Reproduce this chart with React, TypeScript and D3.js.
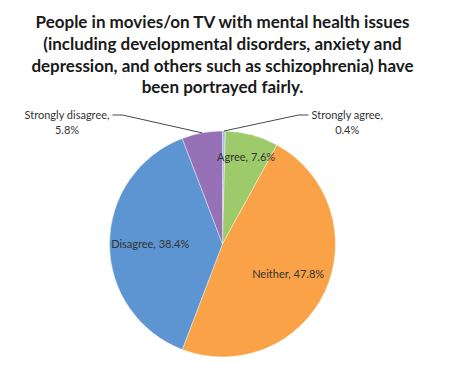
import { useEffect, useRef } from "react";
import * as d3 from "d3";

const TITLE_LINES = [
  "People in movies/on TV with mental health issues",
  "(including developmental disorders, anxiety and",
  "depression, and others such as schizophrenia) have",
  "been portrayed fairly.",
];

const CATEGORIES = ["Strongly agree", "Agree", "Neither", "Disagree", "Strongly disagree"];
const VALUES = [0.4, 7.6, 47.8, 38.4, 5.8];
const COLORS = ["#a7bfe3", "#9dca6b", "#f9a247", "#5c95d1", "#9771b6"];

type Slice = { label: string; value: number; color: string };

const SLICES: Slice[] = CATEGORIES.map((label, i) => ({
  label,
  value: VALUES[i],
  color: COLORS[i],
}));

export default function App() {
  const ref = useRef<SVGSVGElement | null>(null);

  useEffect(() => {
    if (!ref.current) return;
    const svg = d3.select(ref.current);
    svg.selectAll("*").remove();

    const width = 475;
    const height = 365;
    const cx = 222.5;
    const cy = 244;
    const r = 113;
    const font = "Lato, 'Open Sans', sans-serif";

    svg.attr("viewBox", `0 0 ${width} ${height}`);

    // title
    svg
      .append("g")
      .selectAll("text")
      .data(TITLE_LINES)
      .enter()
      .append("text")
      .attr("x", cx)
      .attr("y", (_, i) => 28 + i * 21.8)
      .attr("text-anchor", "middle")
      .attr("font-family", font)
      .attr("font-weight", 700)
      .attr("font-size", 17)
      .attr("fill", "#1a1a1a")
      .text((d) => d);

    const pie = d3
      .pie<Slice>()
      .sort(null)
      .value((d) => d.value);
    const arcs = pie(SLICES);

    const arc = d3.arc<d3.PieArcDatum<Slice>>().innerRadius(0).outerRadius(r);
    const edge = d3.arc<d3.PieArcDatum<Slice>>().innerRadius(r).outerRadius(r);
    const inner = d3.arc<d3.PieArcDatum<Slice>>().innerRadius(r * 0.64).outerRadius(r * 0.64);
    const innerSmall = d3.arc<d3.PieArcDatum<Slice>>().innerRadius(r * 0.8).outerRadius(r * 0.8);

    const g = svg.append("g").attr("transform", `translate(${cx},${cy})`);

    g.selectAll("path")
      .data(arcs)
      .enter()
      .append("path")
      .attr("d", arc)
      .attr("fill", (d) => d.data.color)
      .attr("stroke", "#ffffff")
      .attr("stroke-width", 0.4);

    const insideArcs = arcs.filter((d) => d.data.value >= 6);
    const outsideArcs = arcs.filter((d) => d.data.value < 6);

    g.selectAll("text.inside")
      .data(insideArcs)
      .enter()
      .append("text")
      .attr("class", "inside")
      .attr("transform", (d) => {
        const [x, y] = d.data.value < 10 ? innerSmall.centroid(d) : inner.centroid(d);
        return `translate(${x},${y})`;
      })
      .attr("text-anchor", "middle")
      .attr("dy", "0.35em")
      .attr("font-family", font)
      .attr("font-size", 11)
      .attr("fill", "#333333")
      .text((d) => `${d.data.label}, ${d.data.value.toFixed(1)}%`);

    outsideArcs.forEach((d) => {
      const [ex, ey] = edge.centroid(d);
      const mid = (d.startAngle + d.endAngle) / 2;
      const side = Math.sin(mid) >= 0 ? 1 : -1;
      const ly = -r - 16;
      // Excel pushes the left label further out than the right one
      const endX = side > 0 ? r - 27 : -(r - 3);
      const elbowX = endX - side * 10;

      g.append("path")
        .attr("d", `M${ex},${ey}L${elbowX},${ly}L${endX},${ly}`)
        .attr("fill", "none")
        .attr("stroke", "#333333")
        .attr("stroke-width", 0.9);

      const t = g
        .append("text")
        .attr("font-family", font)
        .attr("font-size", 11)
        .attr("fill", "#333333")
        .attr("text-anchor", "middle");
      const l1 = t.append("tspan").text(`${d.data.label},`);
      const w = (l1.node() as SVGTextContentElement).getComputedTextLength();
      const tx = endX + side * (3 + w / 2);
      l1.attr("x", tx).attr("y", ly + 4);
      t.append("tspan")
        .attr("x", tx)
        .attr("y", ly + 19)
        .text(`${d.data.value.toFixed(1)}%`);
    });
  }, []);

  return (
    <svg
      ref={ref}
      width={475}
      height={365}
      style={{ position: "absolute", left: 0, top: 0, background: "#ffffff" }}
    />
  );
}
